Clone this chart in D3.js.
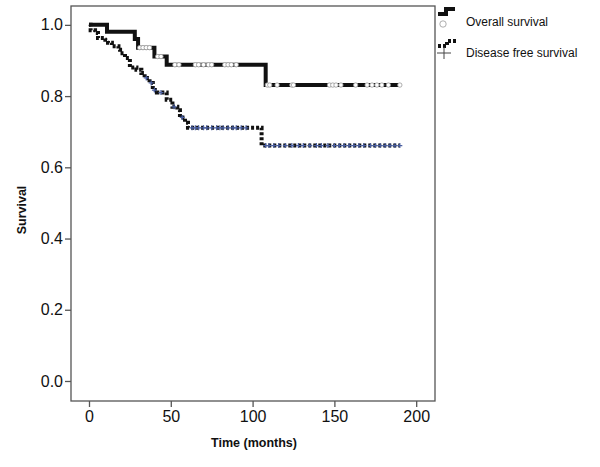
<!DOCTYPE html>
<html><head><meta charset="utf-8">
<script src="https://cdn.jsdelivr.net/npm/d3@7"></script>
<style>body{margin:0;background:#fff;} svg{display:block;font-family:"Liberation Sans",Arial,sans-serif;}</style>
</head><body><div id="chart"></div>
<script>
// Overall survival: step times and survival after each step
const osTimes = [0, 11, 28, 30, 40, 47.5, 108, 190];
const osSurv  = [1.0, 0.981, 0.96, 0.936, 0.911, 0.888, 0.831, 0.831];
const osCensor = [31, 33, 35, 37, 42, 44, 52.5, 55, 65, 67, 70, 73, 75, 83, 85, 87, 90,
  109, 110.5, 115, 124, 125, 147, 149, 151, 154, 163, 170, 173, 176, 179, 183, 190];
// Disease free survival
const dfsTimes = [0, 1, 3.7, 5.5, 10, 11.6, 14, 18, 19, 22, 25, 29, 32, 34, 37, 39, 41.5, 47.5, 51, 54, 55.6, 58.7, 60.5, 105.5, 190];
const dfsSurv  = [1.0, 0.985, 0.977, 0.963, 0.958, 0.95, 0.94, 0.93, 0.92, 0.907, 0.88, 0.874, 0.865, 0.851, 0.837, 0.817, 0.81, 0.79, 0.77, 0.76, 0.74, 0.725, 0.711, 0.661, 0.661];
const dfsCensor = [35, 38, 40, 44, 52, 57, 63, 65, 67, 70, 72, 75, 78, 80, 82, 85, 88, 90, 93, 96,
  108, 110, 113, 116, 120, 124, 128, 131, 135, 139, 142, 146, 150, 153, 156, 159, 162, 165, 168, 172, 175, 178, 181, 184, 187, 190];
const xTicks = [0, 50, 100, 150, 200];
const yTicks = [0, 0.2, 0.4, 0.6, 0.8, 1.0];
const legendLabels = ["Overall survival", "Disease free survival"];

const W = 600, H = 467;
const svg = d3.select("#chart").append("svg").attr("width", W).attr("height", H);
const L = 71, R = 435, T = 6, B = 401;
const x = d3.scaleLinear().domain([-11, 211.5]).range([L, R]);
const y = d3.scaleLinear().domain([-0.0562, 1.053]).range([B, T]);

// frame
svg.append("rect").attr("x", L).attr("y", T).attr("width", R - L).attr("height", B - T)
  .attr("fill", "none").attr("stroke", "#555").attr("stroke-width", 1.3);

const xAxis = svg.append("g").attr("transform", `translate(0,${B})`)
  .call(d3.axisBottom(x).tickValues(xTicks).tickSize(6).tickPadding(4).tickFormat(d3.format("d")));
const yAxis = svg.append("g").attr("transform", `translate(${L},0)`)
  .call(d3.axisLeft(y).tickValues(yTicks).tickSize(6).tickPadding(2).tickFormat(d3.format(".1f")));
[xAxis, yAxis].forEach(g => {
  g.select(".domain").remove();
  g.selectAll("line").attr("stroke", "#555").attr("stroke-width", 1.3);
  g.selectAll("text").attr("font-size", 16).attr("fill", "#111").attr("font-family", "Liberation Sans, Arial, sans-serif");
});

svg.append("text").attr("x", 254).attr("y", 447).attr("text-anchor", "middle")
  .attr("font-size", 12.5).attr("font-weight", "bold").attr("fill", "#111").text("Time (months)");
svg.append("text").attr("transform", "translate(26,210) rotate(-90)").attr("text-anchor", "middle")
  .attr("font-size", 12.5).attr("font-weight", "bold").attr("fill", "#111").text("Survival");

function stepPts(times, surv) {
  return times.map((t, i) => [t, surv[i]]);
}
function survAt(times, surv, t) {
  let s = surv[0];
  for (let i = 0; i < times.length; i++) if (times[i] <= t) s = surv[i];
  return s;
}
const line = d3.line().x(d => x(d[0])).y(d => y(d[1])).curve(d3.curveStepAfter);

// DFS curve
svg.append("path").datum(stepPts(dfsTimes, dfsSurv)).attr("d", line)
  .attr("fill", "none").attr("stroke", "#111").attr("stroke-width", 4).attr("stroke-dasharray", "3,2");
// OS curve
svg.append("path").datum(stepPts(osTimes, osSurv)).attr("d", line)
  .attr("fill", "none").attr("stroke", "#111").attr("stroke-width", 4);

// censor marks
svg.append("g").selectAll("circle").data(osCensor).join("circle")
  .attr("cx", d => x(d)).attr("cy", d => y(survAt(osTimes, osSurv, d)))
  .attr("r", 2.2).attr("fill", "#fff").attr("stroke", "#999").attr("stroke-width", 0.8);
svg.append("g").selectAll("path").data(dfsCensor).join("path")
  .attr("d", d => { const cx = x(d), cy = y(survAt(dfsTimes, dfsSurv, d)); return `M${cx-2.5},${cy}H${cx+2.5}M${cx},${cy-2.5}V${cy+2.5}`; })
  .attr("stroke", "#4a5fa0").attr("stroke-width", 1.2);

// legend
const lg = svg.append("g");
lg.append("path").attr("d", "M438,14H446V9H455").attr("fill", "none").attr("stroke", "#111").attr("stroke-width", 4);
lg.append("circle").attr("cx", 443).attr("cy", 24).attr("r", 3.2).attr("fill", "#fff").attr("stroke", "#999").attr("stroke-width", 0.8);
lg.append("path").attr("d", "M438,46H447V41H456").attr("fill", "none").attr("stroke", "#111").attr("stroke-width", 4).attr("stroke-dasharray", "3,2");
lg.append("path").attr("d", "M437,53H451M444,47V59").attr("stroke", "#444").attr("stroke-width", 1);
lg.selectAll("text").data(legendLabels).join("text")
  .attr("x", 466).attr("y", (d, i) => 26 + i * 31)
  .attr("font-size", 12).attr("fill", "#111").text(d => d);
</script></body></html>
